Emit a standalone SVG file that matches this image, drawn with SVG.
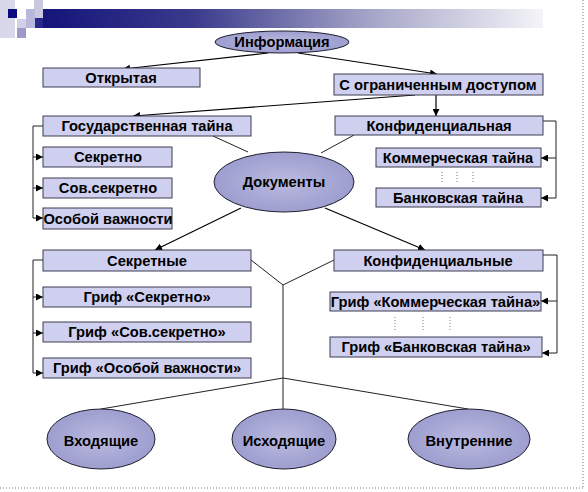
<svg xmlns="http://www.w3.org/2000/svg" width="588" height="492" viewBox="0 0 588 492">
<style>
.box{fill:#cfcff0;stroke:#3c3c50;stroke-width:1}
.ell{fill:url(#eg);stroke:#202030;stroke-width:1}
.t{font-family:"Liberation Sans",Arial,sans-serif;font-weight:bold;font-size:14.7px;fill:#000;text-anchor:middle;dominant-baseline:central}
.c{fill:none;stroke:#000;stroke-width:1.2}
.thin{fill:none;stroke:#222;stroke-width:1}
.dot{fill:none;stroke:#777;stroke-width:1;stroke-dasharray:1,2}
</style>
<defs>
<marker id="ar" viewBox="0 0 10 10" refX="10" refY="5" markerWidth="7" markerHeight="7" markerUnits="userSpaceOnUse" orient="auto">
<path d="M0,0 L10,5 L0,10 z" fill="#000"/>
</marker>
<linearGradient id="bar" x1="0" y1="0" x2="1" y2="0">
<stop offset="0" stop-color="#14147a"/>
<stop offset="0.3" stop-color="#3a3a8c"/>
<stop offset="0.65" stop-color="#a4a4c8"/>
<stop offset="1" stop-color="#f4f4f8"/>
</linearGradient>
<radialGradient id="eg" cx="0.5" cy="0.5" r="0.6">
<stop offset="0" stop-color="#babae0"/>
<stop offset="1" stop-color="#9898cc"/>
</radialGradient>
</defs>
<rect width="588" height="492" fill="#fff"/>
<g id="header">
<rect x="0" y="0" width="15" height="38" fill="#d8d8ea"/>
<rect x="34" y="0" width="9" height="18" fill="#c8c8e0"/>
<rect x="26" y="9" width="9" height="19" fill="#b8b8dc"/>
<rect x="8" y="9" width="9" height="9" fill="#0c0c80"/>
<rect x="17" y="19" width="9" height="9" fill="#d0d0e8"/>
<rect x="17" y="28" width="9" height="10" fill="#9a9acc"/>
<rect x="35" y="18" width="9" height="10" fill="#28288a"/>
<rect x="43" y="9" width="500" height="19" fill="url(#bar)"/>
</g>
<g id="frame">
<line x1="583" y1="0" x2="583" y2="488" class="dot"/>
<line x1="0" y1="488" x2="583" y2="488" class="dot"/>
</g>
<g id="connectors">
<line x1="268" y1="53" x2="123" y2="69" class="c" marker-end="url(#ar)"/>
<line x1="298" y1="53" x2="437" y2="74" class="c" marker-end="url(#ar)"/>
<line x1="436" y1="95" x2="436" y2="116" class="c" marker-end="url(#ar)"/>
<line x1="415" y1="95" x2="133" y2="116" class="c" marker-end="url(#ar)"/>
<polyline points="43,126 33,126 33,218" class="thin"/>
<line x1="33" y1="157" x2="43" y2="157" class="thin" marker-end="url(#ar)"/>
<line x1="33" y1="188" x2="43" y2="188" class="thin" marker-end="url(#ar)"/>
<line x1="33" y1="218" x2="43" y2="218" class="thin" marker-end="url(#ar)"/>
<polyline points="543,121 556,121 556,198" class="thin"/>
<line x1="556" y1="158" x2="541" y2="158" class="thin" marker-end="url(#ar)"/>
<line x1="556" y1="198" x2="541" y2="198" class="thin" marker-end="url(#ar)"/>
<line x1="442" y1="172" x2="442" y2="183" class="dot"/>
<line x1="457" y1="172" x2="457" y2="183" class="dot"/>
<line x1="473" y1="172" x2="473" y2="183" class="dot"/>
<line x1="213" y1="136" x2="248" y2="152" class="thin"/>
<line x1="354" y1="135" x2="321" y2="153" class="thin"/>
<line x1="241" y1="208" x2="155" y2="250" class="c" marker-end="url(#ar)"/>
<line x1="325" y1="208" x2="425" y2="250" class="c" marker-end="url(#ar)"/>
<polyline points="43,260 33,260 33,373" class="thin"/>
<line x1="33" y1="297" x2="43" y2="297" class="thin" marker-end="url(#ar)"/>
<line x1="33" y1="333" x2="43" y2="333" class="thin" marker-end="url(#ar)"/>
<line x1="33" y1="373" x2="43" y2="373" class="thin" marker-end="url(#ar)"/>
<polyline points="543,255 557,255 557,353" class="thin"/>
<line x1="557" y1="301" x2="541" y2="301" class="thin" marker-end="url(#ar)"/>
<line x1="557" y1="353" x2="542" y2="353" class="thin" marker-end="url(#ar)"/>
<line x1="395" y1="317" x2="395" y2="332" class="dot"/>
<line x1="423" y1="317" x2="423" y2="332" class="dot"/>
<line x1="450" y1="317" x2="450" y2="332" class="dot"/>
<line x1="251" y1="260" x2="283" y2="285" class="thin"/>
<line x1="334" y1="260" x2="283" y2="285" class="thin"/>
<line x1="283" y1="285" x2="283" y2="410" class="thin"/>
<line x1="283" y1="378" x2="101" y2="409" class="thin"/>
<line x1="283" y1="378" x2="468" y2="409" class="thin"/>
</g>
<g id="n-info"><ellipse cx="282" cy="42" rx="67" ry="11" class="ell"/><text x="282" y="42" class="t">Информация</text></g>
<g id="n-open"><rect x="43" y="68" width="157" height="19" class="box"/><text x="121" y="78" class="t">Открытая</text></g>
<g id="n-restricted"><rect x="334" y="74" width="209" height="21" class="box"/><text x="438" y="85" class="t">С ограниченным доступом</text></g>
<g id="n-state"><rect x="43" y="116" width="208" height="20" class="box"/><text x="147" y="126" class="t">Государственная тайна</text></g>
<g id="n-secret"><rect x="43" y="147" width="129" height="20" class="box"/><text x="108" y="157" class="t">Секретно</text></g>
<g id="n-topsecret"><rect x="43" y="178" width="129" height="20" class="box"/><text x="108" y="188" class="t">Сов.секретно</text></g>
<g id="n-special"><rect x="43" y="208" width="129" height="21" class="box"/><text x="108" y="219" class="t">Особой важности</text></g>
<g id="n-conf"><rect x="335" y="116" width="208" height="19" class="box"/><text x="439" y="125.5" class="t">Конфиденциальная</text></g>
<g id="n-commerce"><rect x="376" y="148" width="165" height="19" class="box"/><text x="458" y="157.5" class="t">Коммерческая тайна</text></g>
<g id="n-bank"><rect x="376" y="188" width="165" height="19" class="box"/><text x="458" y="197.5" class="t">Банковская тайна</text></g>
<g id="n-docs"><ellipse cx="284" cy="182" rx="70" ry="30" class="ell"/><text x="284" y="182" class="t">Документы</text></g>
<g id="n-secretdocs"><rect x="43" y="250" width="208" height="21" class="box"/><text x="147" y="260.5" class="t">Секретные</text></g>
<g id="n-confdocs"><rect x="334" y="250" width="209" height="21" class="box"/><text x="438" y="260.5" class="t">Конфиденциальные</text></g>
<g id="n-g-secret"><rect x="43" y="287" width="208" height="20" class="box"/><text x="147" y="297" class="t">Гриф «Секретно»</text></g>
<g id="n-g-topsecret"><rect x="43" y="322" width="208" height="20" class="box"/><text x="147" y="332" class="t">Гриф «Сов.секретно»</text></g>
<g id="n-g-special"><rect x="43" y="358" width="208" height="20" class="box"/><text x="147" y="368" class="t">Гриф «Особой важности»</text></g>
<g id="n-g-commerce"><rect x="330" y="292" width="211" height="19" class="box"/><text x="435.5" y="301.5" class="t">Гриф «Коммерческая тайна»</text></g>
<g id="n-g-bank"><rect x="330" y="337" width="212" height="20" class="box"/><text x="436" y="347" class="t">Гриф «Банковская тайна»</text></g>
<g id="n-in"><ellipse cx="101" cy="439" rx="54" ry="30" class="ell"/><text x="101" y="441" class="t">Входящие</text></g>
<g id="n-out"><ellipse cx="284" cy="439" rx="52" ry="30" class="ell"/><text x="284" y="441" class="t">Исходящие</text></g>
<g id="n-internal"><ellipse cx="469" cy="439" rx="61" ry="30" class="ell"/><text x="469" y="441" class="t">Внутренние</text></g>
</svg>
